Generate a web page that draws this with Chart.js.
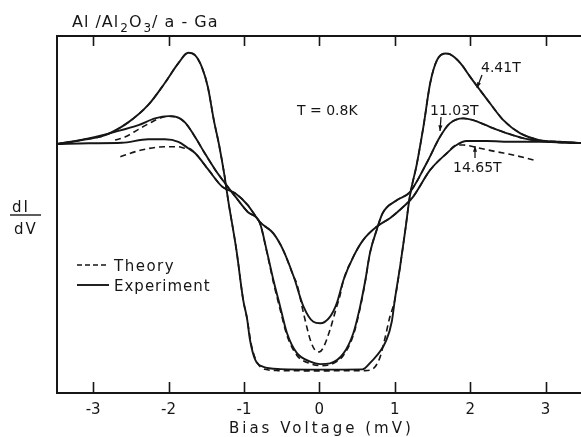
<!DOCTYPE html>
<html>
<head>
<meta charset="utf-8">
<script src="https://cdn.jsdelivr.net/npm/chart.js@4.4.1/dist/chart.umd.min.js"></script>
<style>
  body { margin: 0; background: #fff; }
  canvas { display: block; }
</style>
</head>
<body>
<canvas id="grafica" width="581" height="437"></canvas>
<script>
// bias voltage ticks (mV)
const tickVals = [-3, -2, -1, 0, 1, 2, 3];

// experiment, 4.41 T
const expA_V = [-3.48, -3.15, -2.84, -2.54, -2.27, -2.05, -1.87, -1.74, -1.65, -1.56, -1.48, -1.40, -1.33, -1.26, -1.21, -1.10, -1.01, -0.96, -0.92, -0.85, -0.75, -0.52, 0.0, 0.57, 0.67, 0.89, 0.96, 1.00, 1.07, 1.14, 1.20, 1.29, 1.38, 1.47, 1.56, 1.67, 1.73, 1.87, 2.00, 2.13, 2.26, 2.44, 2.66, 2.92, 3.19, 3.47];
const expA_G = [1.000, 1.016, 1.036, 1.086, 1.157, 1.245, 1.325, 1.367, 1.357, 1.310, 1.230, 1.096, 0.996, 0.876, 0.775, 0.574, 0.373, 0.301, 0.213, 0.133, 0.106, 0.096, 0.094, 0.095, 0.120, 0.213, 0.286, 0.373, 0.507, 0.655, 0.791, 0.916, 1.070, 1.245, 1.337, 1.364, 1.361, 1.325, 1.270, 1.217, 1.165, 1.096, 1.044, 1.016, 1.009, 1.004];

// theory, 4.41 T
const thA_V = [-3.48, -3.15, -2.84, -2.54, -2.27, -2.05, -1.87, -1.74, -1.65, -1.56, -1.48, -1.40, -1.33, -1.26, -1.21, -1.10, -1.01, -0.96, -0.90, -0.82, -0.72, -0.55, 0.0, 0.60, 0.70, 0.80, 0.87, 0.93, 1.00, 1.07, 1.14, 1.20, 1.29, 1.38, 1.47, 1.56, 1.67, 1.73, 1.87, 2.00, 2.13, 2.26, 2.44, 2.66, 2.92, 3.19, 3.47];
const thA_G = [1.000, 1.016, 1.036, 1.086, 1.157, 1.245, 1.325, 1.367, 1.357, 1.310, 1.230, 1.096, 0.996, 0.876, 0.775, 0.574, 0.373, 0.300, 0.190, 0.120, 0.095, 0.090, 0.089, 0.090, 0.095, 0.140, 0.220, 0.300, 0.373, 0.507, 0.655, 0.791, 0.916, 1.070, 1.245, 1.337, 1.364, 1.361, 1.325, 1.270, 1.217, 1.165, 1.096, 1.044, 1.016, 1.009, 1.004];

// experiment, 11.03 T
const expB_V = [-3.48, -3.06, -2.71, -2.40, -2.18, -2.00, -1.91, -1.78, -1.65, -1.52, -1.38, -1.25, -1.12, -0.95, -0.79, -0.70, -0.61, -0.52, -0.43, -0.30, -0.12, 0.01, 0.14, 0.32, 0.45, 0.54, 0.61, 0.67, 0.76, 0.84, 1.03, 1.20, 1.42, 1.60, 1.73, 1.91, 2.04, 2.26, 2.49, 2.71, 3.02, 3.47];
const expB_G = [1.000, 1.023, 1.049, 1.076, 1.103, 1.112, 1.110, 1.086, 1.029, 0.963, 0.896, 0.842, 0.791, 0.727, 0.683, 0.574, 0.454, 0.347, 0.241, 0.161, 0.126, 0.116, 0.119, 0.159, 0.240, 0.347, 0.454, 0.561, 0.655, 0.723, 0.775, 0.807, 0.922, 1.029, 1.083, 1.103, 1.096, 1.069, 1.043, 1.023, 1.009, 1.004];

// theory, 11.03 T
const thB_V = [-2.71, -2.58, -2.40, -2.25, -2.10, -2.00, -1.91, -1.78, -1.65, -1.52, -1.38, -1.25, -1.12, -0.95, -0.79, -0.70, -0.61, -0.52, -0.43, -0.30, -0.12, 0.01, 0.14, 0.32, 0.45, 0.54, 0.61, 0.67, 0.76, 0.84, 1.03, 1.20, 1.42, 1.60, 1.73, 1.91, 2.04, 2.26, 2.49, 2.71, 3.02, 3.47];
const thB_G = [1.016, 1.028, 1.059, 1.084, 1.106, 1.112, 1.110, 1.086, 1.029, 0.963, 0.896, 0.842, 0.791, 0.727, 0.683, 0.570, 0.445, 0.335, 0.232, 0.152, 0.118, 0.110, 0.114, 0.152, 0.232, 0.340, 0.450, 0.561, 0.655, 0.723, 0.775, 0.807, 0.922, 1.029, 1.083, 1.103, 1.096, 1.069, 1.043, 1.023, 1.009, 1.004];

// experiment, 14.65 T
const expC_V = [-3.48, -3.06, -2.62, -2.27, -2.05, -1.87, -1.74, -1.65, -1.47, -1.29, -1.12, -0.95, -0.79, -0.61, -0.48, -0.34, -0.21, -0.08, 0.01, 0.14, 0.23, 0.32, 0.45, 0.58, 0.76, 0.94, 1.11, 1.24, 1.47, 1.69, 1.82, 1.95, 2.22, 2.57, 3.02, 3.47];
const expC_G = [1.000, 1.003, 1.005, 1.019, 1.019, 1.009, 0.983, 0.964, 0.896, 0.829, 0.803, 0.755, 0.687, 0.641, 0.574, 0.467, 0.347, 0.286, 0.280, 0.306, 0.360, 0.454, 0.547, 0.614, 0.668, 0.703, 0.747, 0.787, 0.896, 0.963, 0.996, 1.012, 1.012, 1.009, 1.009, 1.004];

// theory, 14.65 T
const thC_V = [-2.64, -2.36, -2.05, -1.87, -1.78, -1.74, -1.65, -1.47, -1.29, -1.12, -0.95, -0.79, -0.61, -0.48, -0.34, -0.30, -0.21, -0.12, -0.06, 0.0, 0.05, 0.14, 0.23, 0.27, 0.32, 0.45, 0.58, 0.76, 0.94, 1.11, 1.24, 1.47, 1.69, 1.82, 1.91, 2.13, 2.35, 2.57, 2.84];
const thC_G = [0.949, 0.976, 0.989, 0.989, 0.983, 0.983, 0.964, 0.896, 0.829, 0.803, 0.755, 0.687, 0.641, 0.574, 0.467, 0.440, 0.320, 0.213, 0.173, 0.165, 0.181, 0.253, 0.347, 0.387, 0.454, 0.547, 0.614, 0.668, 0.703, 0.747, 0.787, 0.896, 0.963, 0.996, 0.996, 0.983, 0.969, 0.956, 0.936];

const pares = (vs, gs) => vs.map((v, i) => ({ x: v, y: gs[i] }));

const tinta = '#161616';
const fuente = '"DejaVu Sans", sans-serif';

function serie(vs, gs, punteada) {
    return {
        data: pares(vs, gs),
        borderColor: tinta,
        borderWidth: punteada ? 1.6 : 1.9,
        borderDash: punteada ? [6, 4] : [],
        pointRadius: 0,
        cubicInterpolationMode: 'monotone',
        fill: false
    };
}

// frame, inward ticks and the free text of the figure
const adornos = {
    id: 'adornos',
    afterDraw(chart) {
        const ctx = chart.ctx;
        const a = chart.chartArea;
        const xs = chart.scales.x;
        ctx.save();
        ctx.strokeStyle = tinta;
        ctx.lineWidth = 2;
        ctx.beginPath();
        ctx.moveTo(a.left, a.bottom);
        ctx.lineTo(a.left, a.top);
        ctx.lineTo(a.right, a.top);
        ctx.stroke();
        ctx.lineWidth = 1.6;
        for (const v of tickVals) {
            const px = Math.round(xs.getPixelForValue(v)) + 0.5;
            ctx.beginPath();
            ctx.moveTo(px, a.bottom);
            ctx.lineTo(px, a.bottom - 11);
            ctx.moveTo(px, a.top);
            ctx.lineTo(px, a.top + 10);
            ctx.stroke();
        }

        ctx.fillStyle = tinta;
        ctx.textBaseline = 'alphabetic';
        ctx.textAlign = 'left';

        // title with subscripts
        ctx.letterSpacing = '1px';
        let x = 72;
        const partes = [['Al /Al', 0], ['2', 1], ['O', 0], ['3', 1], ['/ a - Ga', 0]];
        for (const [t, sub] of partes) {
            ctx.font = (sub ? '12px ' : '16px ') + fuente;
            ctx.fillText(t, x, sub ? 32 : 27);
            x += ctx.measureText(t).width + (sub ? 0 : 1);
        }

        ctx.font = '14px ' + fuente;
        ctx.letterSpacing = '0px';
        ctx.fillText('T = 0.8K', 297, 115);

        ctx.font = '14px ' + fuente;
        ctx.fillText('4.41T', 481, 72);
        ctx.fillText('11.03T', 430, 115);
        ctx.fillText('14.65T', 453, 172);

        // arrows
        ctx.lineWidth = 1.3;
        const flecha = (x1, y1, x2, y2) => {
            ctx.beginPath();
            ctx.moveTo(x1, y1);
            ctx.lineTo(x2, y2);
            ctx.stroke();
            const ang = Math.atan2(y2 - y1, x2 - x1);
            ctx.beginPath();
            ctx.moveTo(x2, y2);
            ctx.lineTo(x2 - 6 * Math.cos(ang - 0.35), y2 - 6 * Math.sin(ang - 0.35));
            ctx.lineTo(x2 - 6 * Math.cos(ang + 0.35), y2 - 6 * Math.sin(ang + 0.35));
            ctx.closePath();
            ctx.fill();
        };
        flecha(482, 75, 477, 88);
        flecha(441, 117, 440, 131);
        flecha(475, 158, 475, 146);

        // dI / dV
        ctx.font = '15px ' + fuente;
        ctx.letterSpacing = '2px';
        ctx.fillText('dI', 12, 212);
        ctx.fillText('dV', 14, 234);
        ctx.letterSpacing = '0px';
        ctx.lineWidth = 1.4;
        ctx.beginPath();
        ctx.moveTo(10, 215);
        ctx.lineTo(41, 215);
        ctx.stroke();

        // legend
        ctx.lineWidth = 1.6;
        ctx.setLineDash([5, 3]);
        ctx.beginPath();
        ctx.moveTo(77, 265);
        ctx.lineTo(109, 265);
        ctx.stroke();
        ctx.setLineDash([]);
        ctx.lineWidth = 1.9;
        ctx.beginPath();
        ctx.moveTo(77, 285);
        ctx.lineTo(109, 285);
        ctx.stroke();
        ctx.font = '15px ' + fuente;
        ctx.letterSpacing = '1.5px';
        ctx.fillText('Theory', 114, 271);
        ctx.letterSpacing = '1px';
        ctx.fillText('Experiment', 114, 291);

        // x axis title
        ctx.font = '15px ' + fuente;
        ctx.letterSpacing = '3px';
        ctx.textAlign = 'center';
        ctx.fillText('Bias Voltage (mV)', xs.getPixelForValue(0) + 2, 433);
        ctx.restore();
    }
};

Chart.defaults.color = tinta;
Chart.defaults.font.family = fuente;

new Chart('grafica', {
    type: 'line',
    data: {
        datasets: [
            serie(expA_V, expA_G, false),
            serie(thA_V, thA_G, true),
            serie(expB_V, expB_G, false),
            serie(thB_V, thB_G, true),
            serie(expC_V, expC_G, false),
            serie(thC_V, thC_G, true)
        ]
    },
    options: {
        responsive: false,
        animation: false,
        layout: { padding: { left: 57, top: 36, right: 0, bottom: 0 } },
        plugins: { legend: { display: false }, tooltip: { enabled: false } },
        scales: {
            x: {
                type: 'linear',
                min: -3.48,
                max: 3.47,
                afterBuildTicks: (s) => { s.ticks = tickVals.map(v => ({ value: v })); },
                afterFit: (s) => { s.height = 44; },
                grid: { drawOnChartArea: false, drawTicks: false },
                border: { display: true, color: tinta, width: 2 },
                ticks: {
                    padding: 8,
                    font: { size: 15 },
                    color: tinta,
                    maxRotation: 0,
                    callback: (v) => String(v)
                }
            },
            y: {
                display: false,
                min: 0,
                max: 1.434
            }
        }
    },
    plugins: [adornos]
});
</script>
</body>
</html>
